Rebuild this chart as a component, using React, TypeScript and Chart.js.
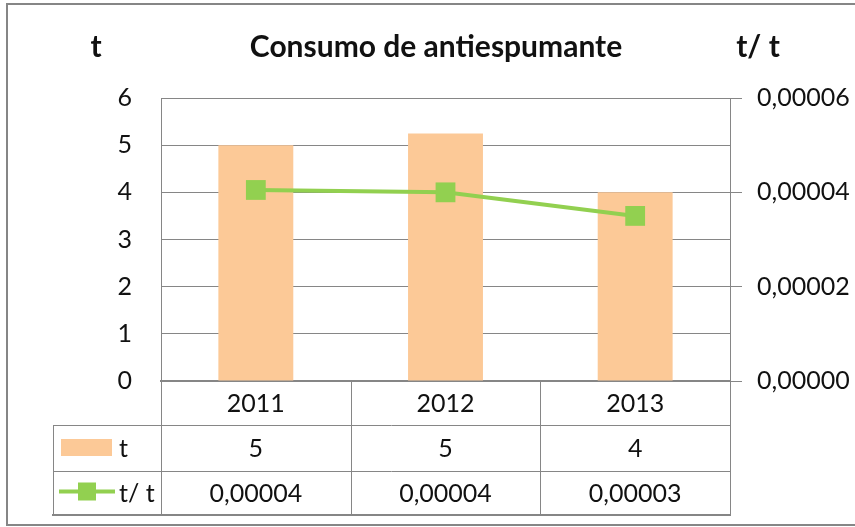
import React, { useEffect, useRef } from 'react';
import { Chart, registerables } from 'chart.js';

Chart.register(...registerables);

// ---- data ----
const categories = ['2011', '2012', '2013'];
const tonnes = [5.0, 5.25, 4.0];
const ratio = [0.0000405, 0.00004, 0.000035];
const tonnesTable = ['5', '5', '4'];
const ratioTable = ['0,00004', '0,00004', '0,00003'];
const seriesNames = ['t', 't/ t'];
const chartTitle = 'Consumo de antiespumante';
const leftUnit = 't';
const rightUnit = 't/ t';

// ---- styles ----
const FONT = "Lato, 'Open Sans', 'Noto Sans', sans-serif";
const GRID = '#868686';
const BAR = '#FCC997';
const LINE = '#92D050';
const TEXT = '#111111';

function hline(ctx: CanvasRenderingContext2D, x1: number, x2: number, y: number) {
  ctx.beginPath();
  ctx.moveTo(x1, y);
  ctx.lineTo(x2, y);
  ctx.stroke();
}
function vline(ctx: CanvasRenderingContext2D, x: number, y1: number, y2: number) {
  ctx.beginPath();
  ctx.moveTo(x, y1);
  ctx.lineTo(x, y2);
  ctx.stroke();
}

const excelTablePlugin = {
  id: 'excelTable',
  afterDraw(chart: any) {
    const { ctx, chartArea, scales } = chart;
    const xs = scales.x;
    const left = chartArea.left;
    const right = chartArea.right;
    const bottom = chartArea.bottom;
    const tableLeft = 53;
    const r1 = bottom + 44;
    const r2 = r1 + 46;
    const r3 = r2 + 43;
    const a = (v: number) => Math.round(v) + 0.5;

    ctx.save();
    // grid of the data table
    const bounds: number[] = [left];
    for (let i = 0; i < categories.length - 1; i++) {
      bounds.push((xs.getPixelForValue(i) + xs.getPixelForValue(i + 1)) / 2);
    }
    bounds.push(right);
    ctx.strokeStyle = GRID;
    ctx.lineWidth = 1;
    bounds.forEach((b) => vline(ctx, a(b), bottom, r3));
    vline(ctx, a(tableLeft), r1, r3);
    hline(ctx, tableLeft, right, a(r1));
    hline(ctx, tableLeft, right, a(r2));
    ctx.lineWidth = 2;
    hline(ctx, tableLeft - 1, right + 1, Math.round(r3) + 1);

    // table text
    ctx.fillStyle = TEXT;
    ctx.font = `25px ${FONT}`;
    ctx.textAlign = 'center';
    ctx.textBaseline = 'middle';
    categories.forEach((c, i) => {
      const cx = xs.getPixelForValue(i);
      ctx.fillText(c, cx, (bottom + r1) / 2 + 1);
      ctx.fillText(tonnesTable[i], cx, (r1 + r2) / 2 + 1);
      ctx.fillText(ratioTable[i], cx, (r2 + r3) / 2 + 1);
    });

    // legend keys
    ctx.fillStyle = BAR;
    ctx.fillRect(tableLeft + 8, r1 + 14, 51, 17);
    ctx.strokeStyle = LINE;
    ctx.lineWidth = 4;
    const ly = (r2 + r3) / 2 - 1;
    hline(ctx, tableLeft + 6, tableLeft + 62, ly);
    ctx.fillStyle = LINE;
    ctx.fillRect(tableLeft + 25, ly - 9, 18, 18);
    ctx.fillStyle = TEXT;
    ctx.textAlign = 'left';
    ctx.fillText(seriesNames[0], tableLeft + 66, (r1 + r2) / 2 + 1);
    ctx.fillText(seriesNames[1], tableLeft + 66, (r2 + r3) / 2 + 1);

    // titles
    ctx.font = `bold 30px ${FONT}`;
    ctx.textBaseline = 'alphabetic';
    ctx.textAlign = 'center';
    ctx.fillText(chartTitle, 436, 57);
    ctx.fillText(leftUnit, 96, 57);
    ctx.fillText(rightUnit, 758, 57);

    // outer frame
    ctx.strokeStyle = GRID;
    ctx.lineWidth = 2;
    ctx.strokeRect(7, 4, 880, 521);
    ctx.restore();
  },
};

export default function App() {
  const ref = useRef<HTMLCanvasElement>(null);

  useEffect(() => {
    if (!ref.current) return;
    const chart = new Chart(ref.current, {
      type: 'bar',
      data: {
        labels: categories,
        datasets: [
          {
            type: 'line',
            label: seriesNames[1],
            data: ratio,
            yAxisID: 'y1',
            order: 0,
            borderColor: LINE,
            backgroundColor: LINE,
            borderWidth: 4,
            tension: 0,
            pointStyle: 'rect',
            pointRadius: 14,
            pointBorderWidth: 0,
            pointBackgroundColor: LINE,
          } as any,
          {
            type: 'bar',
            label: seriesNames[0],
            data: tonnes,
            yAxisID: 'y',
            order: 1,
            backgroundColor: BAR,
            borderWidth: 0,
            categoryPercentage: 1,
            barPercentage: 0.395,
          },
        ],
      },
      options: {
        responsive: false,
        animation: false,
        layout: { padding: { left: 0, right: 0, top: 98, bottom: 146 } },
        plugins: {
          legend: { display: false },
          tooltip: { enabled: false },
          title: { display: false },
        },
        scales: {
          x: {
            grid: { display: false, drawTicks: false },
            ticks: { display: false },
            border: { display: true, color: GRID, width: 2 },
            afterFit: (s: any) => {
              s.height = 0;
            },
          },
          y: {
            position: 'left',
            min: 0,
            max: 6,
            ticks: {
              stepSize: 1,
              padding: 29,
              color: TEXT,
              font: { family: FONT, size: 25 },
            },
            grid: { color: GRID, lineWidth: 1, drawTicks: false },
            border: { display: true, color: GRID, width: 1 },
            afterFit: (s: any) => {
              s.width = 161;
            },
          },
          y1: {
            position: 'right',
            min: 0,
            max: 0.00006,
            ticks: {
              stepSize: 0.00002,
              padding: 15,
              color: TEXT,
              font: { family: FONT, size: 25 },
              callback: (v: any) => Number(v).toFixed(5).replace('.', ','),
            },
            grid: {
              drawOnChartArea: false,
              drawTicks: true,
              tickLength: 12,
              tickColor: GRID,
              color: GRID,
            },
            border: { display: true, color: GRID, width: 1 },
            afterFit: (s: any) => {
              s.width = 125;
            },
          },
        },
      },
      plugins: [excelTablePlugin],
    });
    return () => chart.destroy();
  }, []);

  return (
    <div style={{ position: 'fixed', left: 0, top: 0, width: 855, height: 527, background: '#fff' }}>
      <canvas ref={ref} width={855} height={527} style={{ display: 'block' }} />
    </div>
  );
}
